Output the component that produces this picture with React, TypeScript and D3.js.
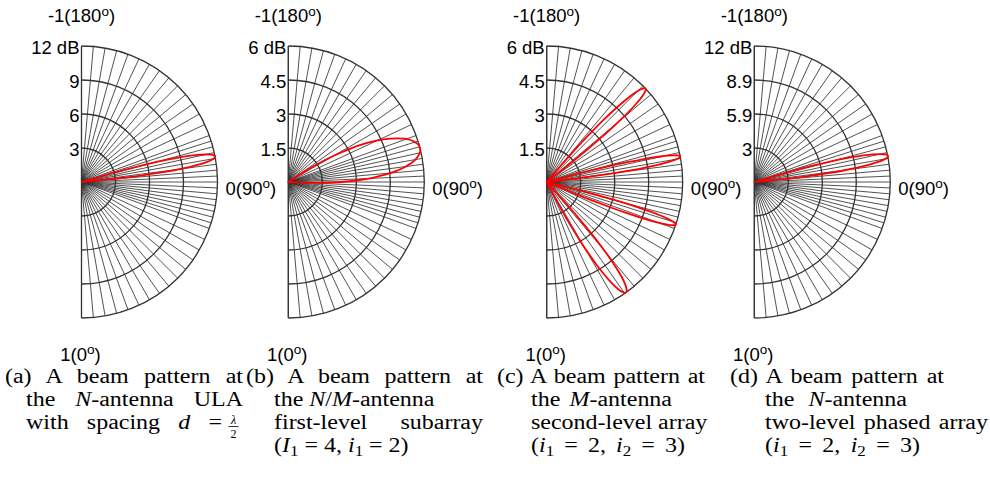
import React, { useLayoutEffect, useRef } from 'react';
import * as d3 from 'd3';

// ---------- data ----------
const panelIds = ['a', 'b', 'c', 'd'];

// radial ring tick labels (inner -> outer) for each panel
const ringTickLabels = [
  ['3', '6', '9', '12 dB'],
  ['1.5', '3', '4.5', '6 dB'],
  ['1.5', '3', '4.5', '6 dB'],
  ['3', '5.9', '8.9', '12 dB'],
];
const ringFractions = [0.25, 0.5, 0.75, 1];
// value at the outer ring (pattern peak, dB)
const scaleMaxDb = [12.04, 6.02, 6.02, 11.83];

// angular tick labels (u = cos(theta))
const topTickLabel = ['-1(180', ')'];
const rightTickLabel = ['0(90', ')'];
const bottomTickLabel = ['1(0', ')'];

// grid spokes, theta in degrees (0 = u=1 at bottom, 180 = u=-1 at top)
const spokeThetaDeg = [
  0, 5, 10, 15, 20, 25, 30, 35, 40, 45, 50, 55, 60, 65, 70, 72.5, 75, 77.5, 80, 82.5,
  85, 87.5, 90, 92.5, 95, 97.5, 100, 102.5, 105, 107.5, 110, 115, 120, 125, 130, 135,
  140, 145, 150, 155, 160, 165, 170, 175, 180,
];

// (a) N-antenna ULA main lobe (half profile: offset in u, gain dB)
const ulaLobeOffsetU = [0, 0.01, 0.02, 0.03, 0.04, 0.05, 0.06, 0.07, 0.08, 0.09, 0.0985];
const ulaLobeDb = [12.04, 11.95, 11.67, 11.2, 10.53, 9.63, 8.47, 7.0, 5.13, 2.71, 0];
const ulaLobeCentersU = [-0.1875];

// (b) N/M-antenna first-level subarray lobe (half profile)
const subLobeOffsetU = [0, 0.025, 0.05, 0.075, 0.1, 0.125, 0.15, 0.175, 0.2, 0.225, 0.25, 0.275, 0.29, 0.3, 0.308];
const subLobeDb = [6.02, 5.99, 5.88, 5.72, 5.48, 5.16, 4.78, 4.3, 3.74, 3.09, 2.32, 1.43, 0.83, 0.4, 0];
const subLobeCentersU = [-0.25];

// (c) M-antenna second-level array lobes (half profile), grating lobes
const secondLobeOffsetU = [0, 0.00625, 0.0125, 0.01875, 0.025, 0.03125, 0.0375, 0.04375, 0.05, 0.05625, 0.0625, 0.06875, 0.0725, 0.075, 0.077];
const secondLobeDb = [6.02, 5.99, 5.88, 5.72, 5.48, 5.16, 4.78, 4.3, 3.74, 3.09, 2.32, 1.43, 0.83, 0.4, 0];
const secondLobeCentersU = [-0.6875, -0.1875, 0.3125, 0.8125];

// (d) N-antenna two-level phased array (full, slightly asymmetric profile)
const twoLevelOffsetU = [-0.0995, -0.09, -0.08, -0.06, -0.04, -0.02, -0.01, 0, 0.01, 0.02, 0.04, 0.06, 0.08, 0.09, 0.096];
const twoLevelDb = [0, 3.11, 5.45, 8.66, 10.59, 11.6, 11.81, 11.83, 11.67, 11.33, 10.04, 7.84, 4.36, 1.87, 0];
const twoLevelCentersU = [-0.1875];

const panelLobes = [
  { centers: ulaLobeCentersU, offsets: ulaLobeOffsetU, db: ulaLobeDb, symmetric: true },
  { centers: subLobeCentersU, offsets: subLobeOffsetU, db: subLobeDb, symmetric: true },
  { centers: secondLobeCentersU, offsets: secondLobeOffsetU, db: secondLobeDb, symmetric: true },
  { centers: twoLevelCentersU, offsets: twoLevelOffsetU, db: twoLevelDb, symmetric: false },
];

// captions: lines of segments
type Seg = { t: string; i?: boolean; sub?: boolean };
const captionLines: Seg[][][] = [
  [
    [{ t: '(a) A beam pattern at' }],
    [{ t: 'the ' }, { t: 'N', i: true }, { t: '-antenna ULA' }],
    [{ t: 'with spacing ' }, { t: 'd', i: true }, { t: ' =' }],
  ],
  [
    [{ t: '(b) A beam pattern at' }],
    [{ t: 'the ' }, { t: 'N', i: true }, { t: '/' }, { t: 'M', i: true }, { t: '-antenna' }],
    [{ t: 'first-level subarray' }],
    [{ t: '(' }, { t: 'I', i: true }, { t: '1', sub: true }, { t: ' = 4, ' }, { t: 'i', i: true }, { t: '1', sub: true }, { t: ' = 2)' }],
  ],
  [
    [{ t: '(c) A beam pattern at' }],
    [{ t: 'the ' }, { t: 'M', i: true }, { t: '-antenna' }],
    [{ t: 'second-level array' }],
    [{ t: '(' }, { t: 'i', i: true }, { t: '1', sub: true }, { t: ' = 2, ' }, { t: 'i', i: true }, { t: '2', sub: true }, { t: ' = 3)' }],
  ],
  [
    [{ t: '(d) A beam pattern at' }],
    [{ t: 'the ' }, { t: 'N', i: true }, { t: '-antenna' }],
    [{ t: 'two-level phased array' }],
    [{ t: '(' }, { t: 'i', i: true }, { t: '1', sub: true }, { t: ' = 2, ' }, { t: 'i', i: true }, { t: '2', sub: true }, { t: ' = 3)' }],
  ],
];
const fractionNum = 'λ';
const fractionDen = '2';

// ---------- layout ----------
const W = 990;
const H = 481;
const CY = 182;
const R = 136;
const panelCX = [81.5, 288.3, 546.7, 754.3];
const captionBaselines = [383, 406, 429, 452];
const captionLayout = [
  [[5, 238], [26, 217], [26, 196]],
  [[246, 237], [274, 144], [274, 209], [274, 130]],
  [[497, 208], [531, 141], [531, 174], [531, 154]],
  [[730, 214], [765, 142], [765, 223], [765, 155]],
];
const sansFont = "'Liberation Sans', Arial, Helvetica, sans-serif";
const serifFont = "'Liberation Serif', 'Times New Roman', Times, serif";
const gridColor = '#333';
const labelSize = 18.5;
const captionSize = 20.5;
const captionStretch = 1.17;

function Degree({ x, y, parts, anchor }: { x: number; y: number; parts: string[]; anchor: string }) {
  return (
    <text x={x} y={y} textAnchor={anchor} fontFamily={sansFont} fontSize={labelSize} fill="#000">
      {parts[0]}
      <tspan dy={-6.5} fontSize={13.5}>o</tspan>
      <tspan dy={6.5}>{parts[1]}</tspan>
    </text>
  );
}

function Panel({ k }: { k: number }) {
  const cx = panelCX[k];
  const maxDb = scaleMaxDb[k];
  const rScale = d3.scaleLinear().domain([0, maxDb]).range([0, R]).clamp(true);
  const ringRadii = ringFractions.map((f) => rScale(f * maxDb));

  const ringPath = (r: number) => {
    const p = d3.path();
    p.moveTo(cx, CY - r);
    p.arc(cx, CY, r, -Math.PI / 2, Math.PI / 2);
    return p.toString();
  };

  const toAngle = (u: number) => Math.PI - Math.acos(Math.max(-1, Math.min(1, u)));

  const lobes = panelLobes[k];
  const lobePoints = lobes.centers.map((c) => {
    const pts: { u: number; db: number }[] = [];
    if (lobes.symmetric) {
      for (let i = lobes.offsets.length - 1; i >= 1; i--) pts.push({ u: c - lobes.offsets[i], db: lobes.db[i] });
      for (let i = 0; i < lobes.offsets.length; i++) pts.push({ u: c + lobes.offsets[i], db: lobes.db[i] });
    } else {
      for (let i = 0; i < lobes.offsets.length; i++) pts.push({ u: c + lobes.offsets[i], db: lobes.db[i] });
    }
    return pts;
  });

  const line = d3
    .lineRadial<{ u: number; db: number }>()
    .angle((d) => toAngle(d.u))
    .radius((d) => rScale(d.db))
    .curve(d3.curveCatmullRom.alpha(0.5));

  return (
    <g>
      {spokeThetaDeg.map((deg, i) => {
        const [x, y] = d3.pointRadial(Math.PI - (deg * Math.PI) / 180, R);
        return (
          <line key={'s' + i} x1={cx} y1={CY} x2={cx + x} y2={CY + y} stroke={gridColor} strokeWidth={0.85} />
        );
      })}
      {ringRadii.map((r, i) => (
        <path key={'r' + i} d={ringPath(r)} fill="none" stroke={gridColor} strokeWidth={1.3} />
      ))}
      <line x1={cx} y1={CY - R} x2={cx} y2={CY + R} stroke={gridColor} strokeWidth={1.3} />
      {lobePoints.map((pts, i) => (
        <path key={'l' + i} d={line(pts) || ''} transform={`translate(${cx},${CY})`} fill="none" stroke="#ff0000" strokeWidth={1.8} />
      ))}
      {ringTickLabels[k].map((lab, i) => (
        <text key={'t' + i} x={cx - 2} y={CY - ringRadii[i] + 8} textAnchor="end" fontFamily={sansFont} fontSize={labelSize} fill="#000">
          {lab}
        </text>
      ))}
      <Degree x={cx} y={22} parts={topTickLabel} anchor="middle" />
      <Degree x={cx + R + 8} y={CY + 12.5} parts={rightTickLabel} anchor="start" />
      <Degree x={cx - 1} y={360.5} parts={bottomTickLabel} anchor="middle" />
    </g>
  );
}

function CaptionLine({ segs, x, y, w }: { segs: Seg[]; x: number; y: number; w: number }) {
  const ref = useRef<SVGTextElement>(null);
  useLayoutEffect(() => {
    const el = ref.current;
    if (!el) return;
    el.setAttribute('word-spacing', '0');
    const natural = el.getComputedTextLength();
    const target = w / captionStretch;
    const text = segs.map((s) => s.t).join('');
    const spaces = (text.match(/ /g) || []).length;
    const extra = target - natural;
    if (extra > 0.5 && spaces > 0) {
      el.setAttribute('word-spacing', String(extra / spaces));
    }
  }, [segs, w]);
  let shifted = false;
  return (
    <g transform={`translate(${x},${y}) scale(${captionStretch},1)`}>
      <text ref={ref} x={0} y={0} fontFamily={serifFont} fontSize={captionSize} fill="#000" style={{ whiteSpace: 'pre' }}>
        {segs.map((s, si) => {
          let dy: number | undefined = undefined;
          if (s.sub && !shifted) {
            dy = 4;
            shifted = true;
          } else if (!s.sub && shifted) {
            dy = -4;
            shifted = false;
          }
          return (
            <tspan key={si} dy={dy} fontStyle={s.i ? 'italic' : undefined} fontSize={s.sub ? 14.5 : undefined}>
              {s.t}
            </tspan>
          );
        })}
      </text>
    </g>
  );
}

function Caption({ k }: { k: number }) {
  const lines = captionLines[k];
  return (
    <g>
      {lines.map((segs, li) => {
        const [x, w] = captionLayout[k][li];
        return <CaptionLine key={li} segs={segs} x={x} y={captionBaselines[li]} w={w} />;
      })}
      {k === 0 && (
        <g>
          <text x={233.5} y={424} textAnchor="middle" fontFamily={serifFont} fontStyle="italic" fontSize={12}>
            {fractionNum}
          </text>
          <line x1={228.5} x2={238.5} y1={426.5} y2={426.5} stroke="#000" strokeWidth={0.8} />
          <text x={233.5} y={437.5} textAnchor="middle" fontFamily={serifFont} fontSize={12}>
            {fractionDen}
          </text>
        </g>
      )}
    </g>
  );
}

export default function App() {
  return (
    <svg
      width={W}
      height={H}
      viewBox={`0 0 ${W} ${H}`}
      style={{ position: 'absolute', left: 0, top: 0, background: '#fff' }}
    >
      <rect x={0} y={0} width={W} height={H} fill="#fff" />
      {panelIds.map((id, k) => (
        <g key={id}>
          <Panel k={k} />
          <Caption k={k} />
        </g>
      ))}
    </svg>
  );
}
